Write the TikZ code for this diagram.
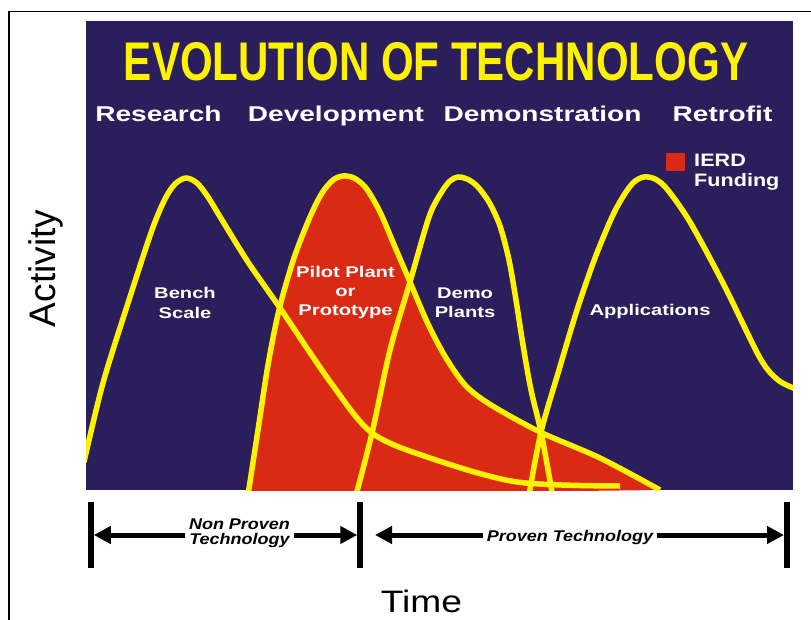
\documentclass[tikz,border=0pt]{standalone}
\usepackage{fontspec}
\setmainfont{Liberation Sans}
\usetikzlibrary{arrows.meta}

\definecolor{panelblue}{RGB}{43,30,92}
\definecolor{fundred}{RGB}{218,42,22}

\tikzset{
  phase/.style={anchor=base, text=white, xscale=1.31,
    font=\bfseries\fontsize{21.4}{24}\selectfont},
  stage/.style={text=white, xscale=1.3, align=center,
    font=\bfseries\fontsize{15.5}{19.3}\selectfont},
  era/.style={xscale=1.16, align=center,
    font=\bfseries\itshape\fontsize{15.5}{15}\selectfont},
  hump/.style={yellow, line width=5.5pt},
  bar/.style={line width=5.5pt},
  big arrow/.style={line width=5pt, -{Triangle[length=17pt,width=17pt]}},
}

\begin{document}
\begin{tikzpicture}[x=1pt, y=-1pt]
  \useasboundingbox (0,0) rectangle (811,620);

  % frame
  \draw [line width=1.3pt] (811,11.5) -- (9,11.5) -- (9,620);

  % panel
  \fill [panelblue] (86,21) rectangle (793,490);

  \begin{scope}
    \clip (86,21) rectangle (793,490);
    % pilot plant, funded
    \draw [hump, fill=fundred] plot [smooth] coordinates {
      (248,495) (258,430) (268,365) (279,310) (294,258) (310,217)
      (322,193) (333,180) (343,176) (354,178) (366,188) (380,212)
      (395,247) (410,282) (428,324) (446,358) (466,386) (491,405)
      (540,432) (600,458) (660,490)};
    % bench scale
    \draw [hump] plot [smooth] coordinates {
      (84,462) (103,383) (129,300) (152,230) (165,199) (175,184)
      (186,178) (197,183) (208,197) (222,220) (248,262) (280,308)
      (331,383) (372,433) (430,458) (517,482) (620,486)};
    % demo plants
    \draw [hump] plot [smooth] coordinates {
      (356,495) (372,433) (390,350) (410,282) (429,217) (441,193)
      (450,181) (458,177) (467,179) (477,186) (489,202) (500,226)
      (509,260) (516,300) (523,345) (531,390) (541,432) (552,492)};
    % applications
    \draw [hump] plot [smooth] coordinates {
      (529,495) (541,432) (559,370) (577,310) (595,258) (612,217)
      (624,195) (634,182) (644,177) (655,179) (667,189) (690,222)
      (724,285) (760,358) (778,380) (796,389)};
  \end{scope}

  \node (title) [anchor=base, text=yellow] at (436,81)
    {\resizebox{624pt}{38pt}{\bfseries EVOLUTION OF TECHNOLOGY}};

  \node (research) [phase] at (158.5,122) {Research};
  \node (development) [phase] at (336,122) {Development};
  \node (demonstration) [phase] at (542.5,122) {Demonstration};
  \node (retrofit) [phase] at (722.5,122) {Retrofit};

  % legend
  \fill [fundred] (666,153) rectangle (685,171);
  \node (legend) [anchor=north west, inner sep=0pt, align=left, text=white,
    xscale=1.2, font=\bfseries\fontsize{18}{20}\selectfont]
    at (694,154) {IERD\\Funding};

  \node (bench) [stage] at (185,303) {Bench\\Scale};
  \node (pilot) [stage] at (345.5,292.6) {Pilot Plant\\or\\Prototype};
  \node (demo) [stage] at (465,302.5) {Demo\\Plants};
  \node (applications) [stage, anchor=base] at (650,316) {Applications};

  \node (activity) [rotate=90, anchor=base,
    font=\fontsize{37}{40}\selectfont] at (55,268.5) {Activity};
  \node (time) [anchor=base, xscale=1.2,
    font=\fontsize{31}{34}\selectfont] at (421.5,612) {Time};

  % time line
  \draw [bar] (91,502) -- (91,568) coordinate [pos=0.5] (left bar);
  \draw [bar] (360,502) -- (360,568) coordinate [pos=0.5] (middle bar);
  \draw [bar] (787,502) -- (787,568) coordinate [pos=0.5] (right bar);

  \node (nonproven) [era] at (239.5,533.6) {Non Proven\\Technology};
  \node (proven) [era, anchor=base] at (570,541) {Proven Technology};

  \draw [big arrow, shorten >=2.75pt] (nonproven.west |- left bar) -- (left bar);
  \draw [big arrow, shorten >=2.75pt] (nonproven.east |- middle bar) -- (middle bar);
  \draw [big arrow, shorten >=15pt] (proven.west |- middle bar) -- (middle bar);
  \draw [big arrow, shorten >=3pt] (proven.east |- right bar) -- (right bar);
\end{tikzpicture}
\end{document}
